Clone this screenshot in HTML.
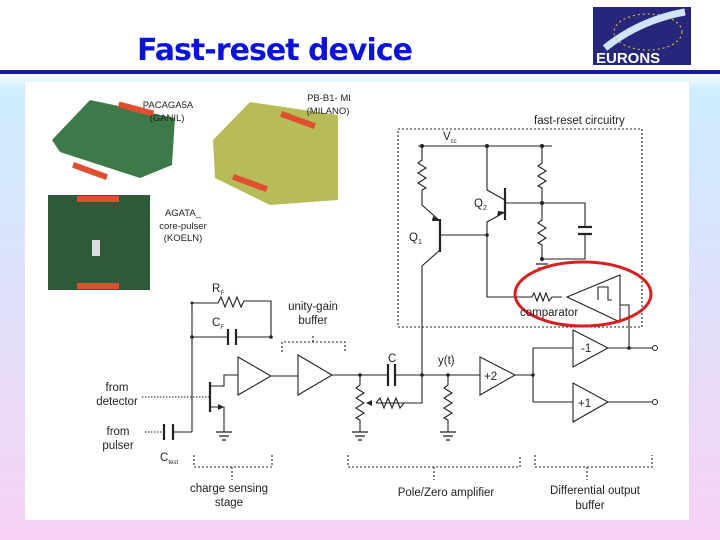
<!DOCTYPE html>
<html><head><meta charset="utf-8"><style>
html,body{margin:0;padding:0}
body{width:720px;height:540px;overflow:hidden;background:linear-gradient(#ffffff 0,#ffffff 72px,#cdeefe 90px,#dfe0fb 300px,#f8d2f4 540px);position:relative;font-family:"Liberation Sans",sans-serif}
</style></head><body>
<svg width="720" height="540" style="position:absolute;left:0;top:0" font-family="Liberation Sans, sans-serif">
<text x="137" y="60" font-size="30" font-weight="bold" fill="#0a14d8" font-family="DejaVu Sans, sans-serif" textLength="276">Fast-reset device</text>
<rect x="0" y="70" width="720" height="4" fill="#1a1aa0"/>
<rect x="593" y="7" width="98" height="58" fill="#26267a"/>
<path d="M605 48 Q640 20 685 12" stroke="#cfe4ff" stroke-width="7" fill="none"/>
<ellipse cx="648" cy="32" rx="34" ry="18" fill="none" stroke="#e8d040" stroke-dasharray="2 3"/>
<text x="596" y="63" font-size="15" font-weight="bold" fill="#fff">EURONS</text>
<rect x="25" y="82" width="664" height="438" fill="#fff"/>
<polygon points="52,140 90,100 175,118 172,165 140,178 60,152" fill="#3d7a48"/>
<rect x="118" y="106" width="36" height="6" fill="#e05030" transform="rotate(15 136 109)"/>
<rect x="72" y="168" width="36" height="6" fill="#e05030" transform="rotate(20 90 171)"/>
<polygon points="213,140 250,102 338,115 338,200 270,205 215,178" fill="#b8bc58"/>
<rect x="280" y="117" width="36" height="6" fill="#e05030" transform="rotate(20 298 120)"/>
<rect x="232" y="180" width="36" height="6" fill="#e05030" transform="rotate(20 250 183)"/>
<rect x="48" y="195" width="102" height="95" fill="#2f5a3a"/>
<rect x="77" y="196" width="42" height="6" fill="#e05030"/>
<rect x="77" y="283" width="42" height="6" fill="#e05030"/>
<rect x="92" y="240" width="8" height="16" fill="#ddd"/>
<g font-size="9.5" fill="#222" text-anchor="middle">
<text x="168" y="108">PACAGA5A</text><text x="167" y="121">(GANIL)</text>
<text x="329" y="101">PB-B1- MI</text><text x="328" y="114">(MILANO)</text>
<text x="183" y="216">AGATA_</text><text x="183" y="229">core-pulser</text><text x="183" y="241">(KOELN)</text>
</g>
<g stroke="#222" stroke-width="1.1" fill="none">
<rect x="398" y="129" width="244" height="198" stroke-dasharray="2 2"/>
<path d="M418 146H552"/>
<path d="M422 146V160l-4 3 8 5-8 5 8 5-8 5 8 5-4 2V205L440 221"/>
<path d="M440 250L422 266V403H376"/>
<path d="M376 403l4-5 4 10 4-10 4 10 4-10 4 10 4-5h14"/>
<path d="M440 235H487M487 146V190L505 200M505 212L487 222V297H532l2-4 3 8 3-8 3 8 3-8 3 8 3-4h10"/>
<path d="M505 203H585V227M585 234V259H542"/>
<path d="M542 146V163l-4 3 8 5-8 5 8 5-8 5 4 2V220l-4 3 8 5-8 5 8 5-8 5 4 2V259"/>
<path d="M567 297L620 275V322Z"/>
<path d="M598 300V287H608V300H612M620 305H629V348"/>
<path d="M192 303V432M192 303H218l3-6 4 10 4-10 4 10 4-10 4 10 3-6H271V337M192 337H228M236 337H271"/>
<path d="M238 357V395L271 376Z M271 376H298 M298 355V395L332 375Z M332 375H388 M395 375H480"/>
<path d="M142 397H210" stroke-dasharray="1.5 1.5"/>
<path d="M210 386H224V375H238M210 407H224V432"/>
<path d="M145 432H164" stroke-dasharray="1.5 1.5"/>
<path d="M173 432H192"/>
<path d="M360 375V385l-4 3 8 5-8 5 8 5-8 5 8 5-8 5 4 2V432M448 375V385l-4 3 8 5-8 5 8 5-8 5 8 5-8 5 4 2V432"/>
<path d="M480 357V395L515 375Z M515 375H533 M533 348V402 M533 348H573 M533 402H573"/>
<path d="M573 330V367L608 348Z M608 348H652 M573 383V422L608 402Z M608 402H652"/>
<path d="M282 352V342H345V352M313 342V336" stroke-dasharray="2 2"/>
<path d="M194 455V467H272V455M232 467V480 M348 455V467H520V455M434 467V480 M535 455V467H652V455M587 467V480" stroke-dasharray="2 2"/>
</g>
<g stroke="#222" stroke-width="2.2">
<path d="M440 219V252M505 188V220M210 382V412M228 329V345M236 329V345M164 424V440M173 424V440M388 364V386M395 364V386M578 227H592M578 234H592"/>
</g>
<g stroke="#222" stroke-width="1.2">
<path d="M216 432H232M219 436H229M222 440H226 M352 432H368M355 436H365M358 440H362 M440 432H456M443 436H453M446 440H450 M536 264H548M538 268H546"/>
</g>
<g fill="#222"><circle cx="422" cy="146" r="2"/><circle cx="487" cy="146" r="2"/><circle cx="542" cy="146" r="2"/><circle cx="487" cy="235" r="1.8"/><circle cx="542" cy="203" r="2"/><circle cx="542" cy="259" r="2"/><circle cx="192" cy="303" r="1.5"/><circle cx="192" cy="337" r="1.8"/><circle cx="271" cy="337" r="1.8"/><circle cx="360" cy="375" r="1.8"/><circle cx="422" cy="375" r="1.8"/><circle cx="448" cy="375" r="1.8"/><circle cx="533" cy="375" r="1.8"/><circle cx="629" cy="348" r="1.8"/>
<path d="M366 403l6-3v6z"/><path d="M224 407l-6-3v6z"/><path d="M505 212l-8 5 1-6z"/><path d="M440 221l-7-5 -1 5z"/></g>
<g fill="#fff" stroke="#222"><circle cx="655" cy="348" r="2.5"/><circle cx="655" cy="402" r="2.5"/></g>
<ellipse cx="583" cy="294" rx="68" ry="32" fill="none" stroke="#d82020" stroke-width="3"/>
<g font-size="11.5" fill="#222">
<text x="534" y="124">fast-reset circuitry</text>
<text x="443" y="140">V<tspan font-size="6" dy="3">cc</tspan></text>
<text x="409" y="241">Q<tspan font-size="7" dy="3">1</tspan></text>
<text x="474" y="207">Q<tspan font-size="7" dy="3">2</tspan></text>
<text x="520" y="316">comparator</text>
<text x="212" y="292">R<tspan font-size="6" dy="3">F</tspan></text>
<text x="212" y="326">C<tspan font-size="6" dy="3">F</tspan></text>
<text x="313" y="310" text-anchor="middle">unity-gain</text>
<text x="313" y="324" text-anchor="middle">buffer</text>
<text x="388" y="362">C</text>
<text x="438" y="364">y(t)</text>
<text x="484" y="380">+2</text>
<text x="581" y="352">-1</text>
<text x="578" y="407">+1</text>
<text x="117" y="391" text-anchor="middle">from</text><text x="117" y="405" text-anchor="middle">detector</text>
<text x="118" y="435" text-anchor="middle">from</text><text x="118" y="449" text-anchor="middle">pulser</text>
<text x="160" y="461">C<tspan font-size="6" dy="3">test</tspan></text>
<text x="229" y="492" text-anchor="middle">charge sensing</text><text x="229" y="506" text-anchor="middle">stage</text>
<text x="446" y="496" text-anchor="middle">Pole/Zero amplifier</text>
<text x="595" y="494" text-anchor="middle">Differential output</text><text x="590" y="509" text-anchor="middle">buffer</text>
</g>
</svg>
</body></html>
